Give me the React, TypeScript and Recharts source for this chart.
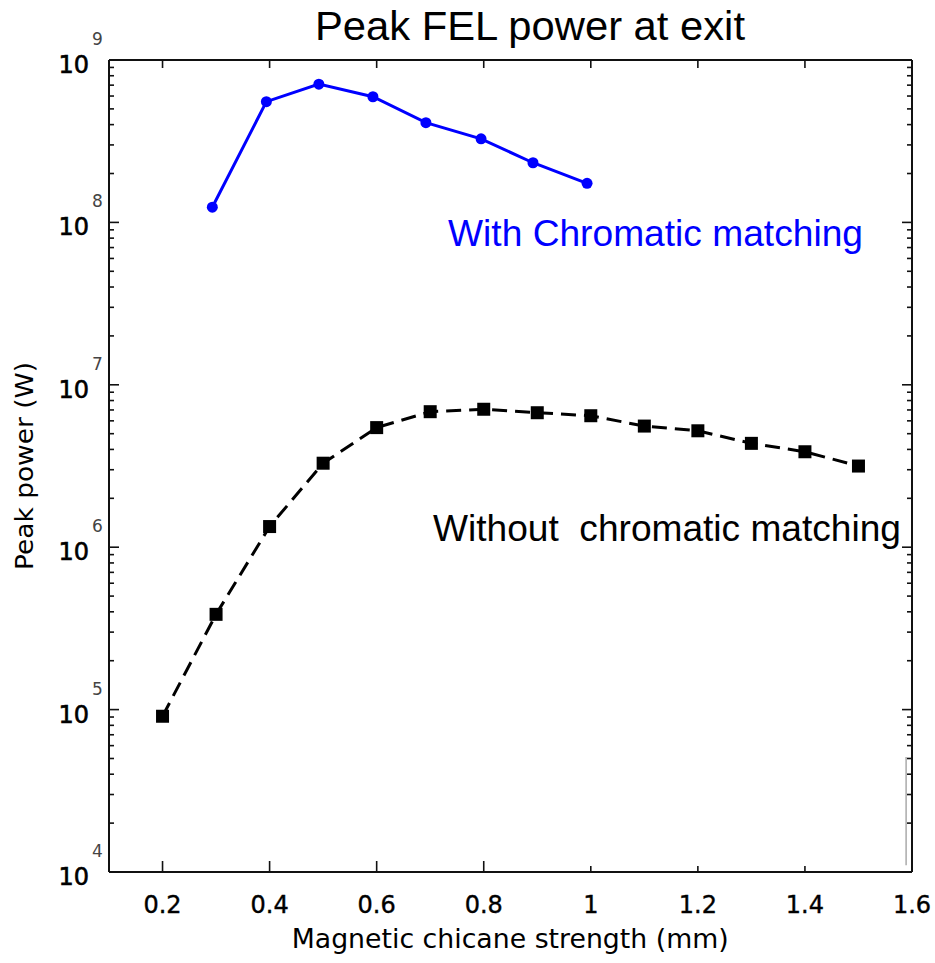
import React from 'react';
import { LineChart, Line, XAxis, YAxis, ReferenceLine } from 'recharts';

// Series: with chromatic matching (blue)
const withX = [0.293, 0.394, 0.492, 0.593, 0.692, 0.795, 0.892, 0.993];
const withY = [1.24e8, 5.54e8, 7.1e8, 5.94e8, 4.11e8, 3.27e8, 2.33e8, 1.74e8];

// Series: without chromatic matching (black dashed)
const withoutX = [0.2, 0.3, 0.4, 0.5, 0.6, 0.7, 0.8, 0.9, 1.0, 1.1, 1.2, 1.3, 1.4, 1.5];
const withoutY = [9.1e4, 3.86e5, 1.34e6, 3.29e6, 5.45e6, 6.83e6, 7.07e6, 6.73e6, 6.45e6, 5.57e6, 5.21e6, 4.36e6, 3.87e6, 3.16e6];

// Axis ticks
const xTicks = [0.2, 0.4, 0.6, 0.8, 1.0, 1.2, 1.4, 1.6];
const xTopTicks = [0.2, 0.4, 0.6, 0.8, 1.0, 1.2, 1.4];
const decades = [4, 5, 6, 7, 8, 9];
const minorMultipliers = [1, 2, 3, 4, 5, 6, 7, 8, 9];

const title = 'Peak FEL power at exit';
const xLabel = 'Magnetic chicane strength (mm)';
const yLabel = 'Peak power (W)';
const withLabel = 'With Chromatic matching';
const withoutLabel = 'Without  chromatic matching';

const withData = withX.map((x, i) => ({ x, y: withY[i] }));
const withoutData = withoutX.map((x, i) => ({ x, y: withoutY[i] }));

const yTicks: number[] = [];
decades.forEach((d) => {
  if (d === decades[decades.length - 1]) {
    yTicks.push(Math.pow(10, d));
  } else {
    minorMultipliers.forEach((m) => yTicks.push(m * Math.pow(10, d)));
  }
});

const isMajor = (v: number) => {
  const e = Math.log10(v);
  return Math.abs(e - Math.round(e)) < 1e-9;
};

const TICK_FONT = 'DejaVu Sans';

const LeftTick = (props: any) => {
  const { x, y, payload } = props;
  const v = payload.value;
  const major = isMajor(v);
  const e = Math.round(Math.log10(v));
  return (
    <g>
      <line x1={x} x2={x + (major ? 10 : 5)} y1={y} y2={y} stroke="#111" strokeWidth={1.6} />
      {major && (
        <>
          <text x={x - 20} y={y + 13} textAnchor="end" fontFamily={TICK_FONT} fontSize={24} fill="#000" stroke="#000" strokeWidth={0.6}>10</text>
          <text x={x - 17} y={y - 15} textAnchor="start" fontFamily={TICK_FONT} fontSize={17} fill="#444">{e}</text>
        </>
      )}
    </g>
  );
};

const RightTick = (props: any) => {
  const { x, y, payload } = props;
  const major = isMajor(payload.value);
  return <line x1={x} x2={x - (major ? 10 : 5)} y1={y} y2={y} stroke="#111" strokeWidth={1.6} />;
};

const BottomTick = (props: any) => {
  const { x, y, payload } = props;
  const v = payload.value;
  const len = v <= 0.85 ? 11 : 6;
  return (
    <g>
      <line x1={x} x2={x} y1={y} y2={y - len} stroke="#111" strokeWidth={1.6} />
      <text x={x} y={y + 41} textAnchor="middle" fontFamily={TICK_FONT} fontSize={24} fill="#000" stroke="#000" strokeWidth={0.4}>{String(v)}</text>
    </g>
  );
};

const TopTick = (props: any) => {
  const { x, y } = props;
  return <line x1={x} x2={x} y1={y} y2={y + 8} stroke="#111" strokeWidth={1.6} />;
};

const SquareDot = (props: any) => {
  const { cx, cy, index } = props;
  if (cx == null || cy == null) return <g key={index} />;
  return <rect key={index} x={cx - 6.5} y={cy - 6.5} width={13} height={13} fill="#000" />;
};

export default function App() {
  return (
    <div style={{ position: 'absolute', left: 0, top: 0, width: 935, height: 963, background: '#fff' }}>
      <LineChart width={935} height={963} margin={{ top: 59, right: 22, bottom: 0, left: 0 }}>
        <XAxis
          xAxisId="b"
          type="number"
          dataKey="x"
          domain={[0.1, 1.6]}
          ticks={xTicks}
          interval={0}
          tickSize={0}
          tickMargin={0}
          height={91}
          allowDataOverflow
          axisLine={{ stroke: '#111', strokeWidth: 2 }}
          tick={(p: any) => <BottomTick {...p} />}
        />
        <XAxis
          xAxisId="t"
          orientation="top"
          type="number"
          dataKey="x"
          domain={[0.1, 1.6]}
          ticks={xTopTicks}
          interval={0}
          tickSize={0}
          tickMargin={0}
          height={1}
          allowDataOverflow
          axisLine={{ stroke: '#111', strokeWidth: 2 }}
          tick={(p: any) => <TopTick {...p} />}
        />
        <YAxis
          yAxisId="l"
          type="number"
          scale="log"
          dataKey="y"
          domain={[1e4, 1e9]}
          ticks={yTicks}
          interval={0}
          tickSize={0}
          tickMargin={0}
          width={109}
          allowDataOverflow
          axisLine={{ stroke: '#111', strokeWidth: 2 }}
          tick={(p: any) => <LeftTick {...p} />}
        />
        <YAxis
          yAxisId="r"
          orientation="right"
          type="number"
          scale="log"
          dataKey="y"
          domain={[1e4, 1e9]}
          ticks={yTicks}
          interval={0}
          tickSize={0}
          tickMargin={0}
          width={1}
          allowDataOverflow
          axisLine={{ stroke: '#111', strokeWidth: 2 }}
          tick={(p: any) => <RightTick {...p} />}
        />
        <ReferenceLine
          xAxisId="b"
          yAxisId="l"
          segment={[{ x: 1.589, y: 5.1e4 }, { x: 1.589, y: 1.1e4 }]}
          stroke="#aaa"
          strokeWidth={1.5}
          ifOverflow="visible"
        />
        <Line
          xAxisId="t"
          yAxisId="r"
          data={withoutData}
          dataKey="y"
          type="linear"
          stroke="none"
          strokeWidth={0}
          dot={false}
          activeDot={false}
          legendType="none"
          isAnimationActive={false}
        />
        <Line
          xAxisId="b"
          yAxisId="l"
          data={withoutData}
          dataKey="y"
          type="linear"
          stroke="#000"
          strokeWidth={3}
          strokeDasharray="15 8"
          dot={(p: any) => <SquareDot {...p} />}
          isAnimationActive={false}
        />
        <Line
          xAxisId="b"
          yAxisId="l"
          data={withData}
          dataKey="y"
          type="linear"
          stroke="#0000ff"
          strokeWidth={3}
          dot={{ r: 5.5, fill: '#0000ff', stroke: '#0000ff', strokeWidth: 0 }}
          isAnimationActive={false}
        />
      </LineChart>
      <svg
        width={935}
        height={963}
        style={{ position: 'absolute', left: 0, top: 0, pointerEvents: 'none' }}
      >
        <text x={315} y={39.5} fontFamily="Liberation Sans" fontSize={40} fill="#000" textLength={430} lengthAdjust="spacingAndGlyphs">{title}</text>
        <text x={448} y={245.7} fontFamily="Liberation Sans" fontSize={37} fill="#0000ff" textLength={415} lengthAdjust="spacingAndGlyphs">{withLabel}</text>
        <text x={433} y={540.7} fontFamily="Liberation Sans" fontSize={37} fill="#000" textLength={468} lengthAdjust="spacingAndGlyphs" style={{ whiteSpace: 'pre' }}>{withoutLabel}</text>
        <text x={291.7} y={948} fontFamily={TICK_FONT} fontSize={26.5} fill="#000" textLength={437} lengthAdjust="spacingAndGlyphs">{xLabel}</text>
        <text x={33} y={466} fontFamily={TICK_FONT} fontSize={24.5} fill="#000" textAnchor="middle" transform="rotate(-90 33 466)" textLength={208} lengthAdjust="spacingAndGlyphs">{yLabel}</text>
      </svg>
    </div>
  );
}
